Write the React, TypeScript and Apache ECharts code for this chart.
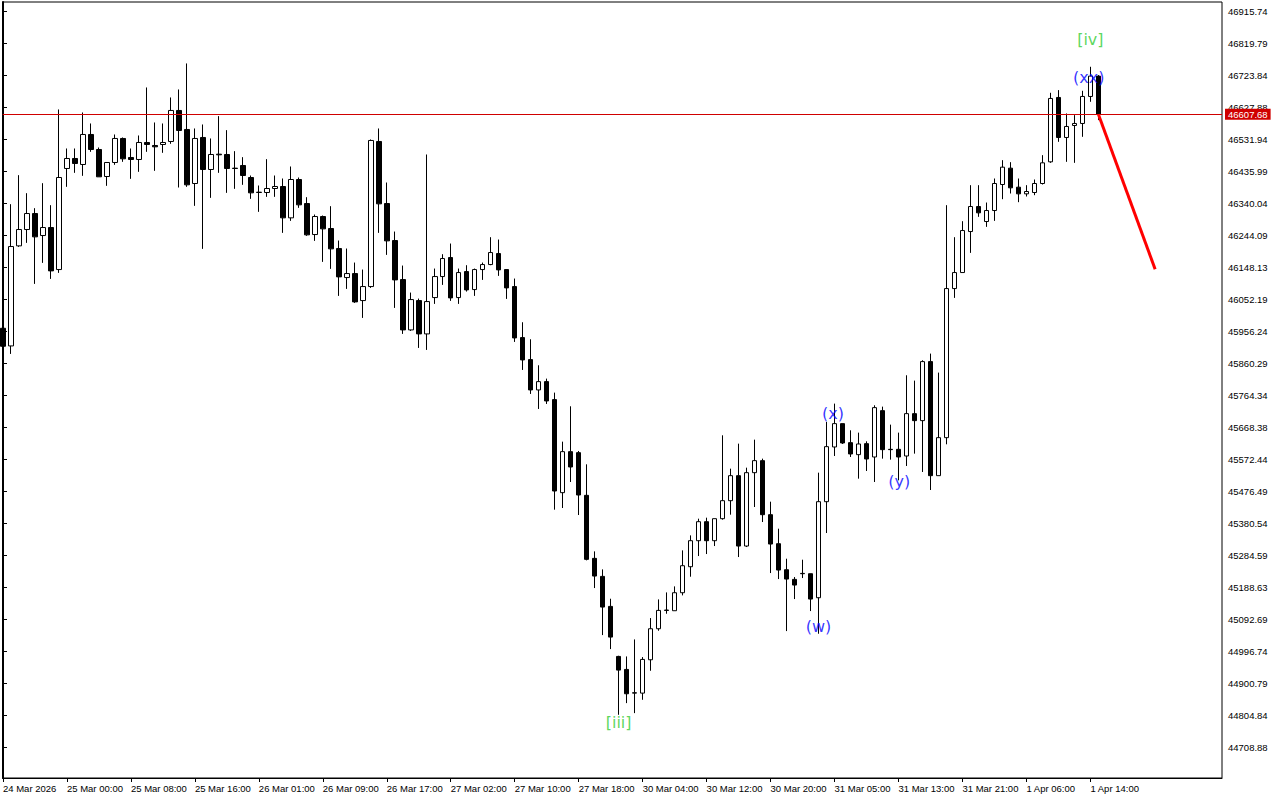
import React, { useEffect, useRef } from "react";
import * as echarts from "echarts";

// Hourly candles, index 0 = 24 Mar 2026 (first visible bar)
const opens = [
  45966, 45913, 46213, 46262, 46310, 46244, 46268, 46142, 46445, 46475,
  46457, 46547, 46502, 46421, 46463, 46535, 46478, 46472, 46523, 46514,
  46517, 46526, 46619, 46562, 46400, 46538, 46442, 46488, 46487, 46446,
  46454, 46418, 46374, 46373, 46385, 46391, 46297, 46412, 46340, 46247,
  46301, 46265, 46205, 46118, 46130, 46049, 46091, 46526, 46340, 46229,
  46112, 45961, 46049, 45949, 46058, 46121, 46178, 46058, 46136, 46082,
  46142, 46157, 46190, 46142, 46091, 45938, 45872, 45781, 45806, 45752,
  45473, 45596, 45593, 45465, 45276, 45222, 45132, 44982, 44943, 44873,
  44872, 44972, 45065, 45121, 45119, 45173, 45251, 45329, 45386, 45329,
  45395, 45449, 45524, 45313, 45533, 45569, 45407, 45320, 45242, 45213,
  45231, 45230, 45158, 45446, 45610, 45680, 45623, 45587, 45620, 45580,
  45719, 45603, 45603, 45583, 45710, 45689, 45866, 45524, 45638, 46085,
  46133, 46256, 46331, 46286, 46319, 46397, 46446, 46389, 46369, 46373,
  46400, 46465, 46658, 46538, 46574, 46580, 46661, 46722,
];
const closes = [
  45912, 46211, 46262, 46310, 46240, 46268, 46138, 46418, 46475, 46460,
  46547, 46502, 46420, 46463, 46535, 46474, 46472, 46523, 46517, 46510,
  46523, 46619, 46559, 46396, 46535, 46442, 46487, 46486, 46445, 46445,
  46424, 46372, 46373, 46385, 46391, 46297, 46412, 46336, 46246, 46301,
  46264, 46204, 46120, 46130, 46045, 46091, 46529, 46339, 46228, 46111,
  45961, 46052, 45949, 46046, 46121, 46175, 46057, 46133, 46081, 46142,
  46157, 46193, 46141, 46087, 45937, 45871, 45781, 45806, 45748, 45478,
  45596, 45550, 45466, 45273, 45223, 45130, 45040, 44941, 44870, 44872,
  44973, 45065, 45120, 45120, 45173, 45254, 45329, 45386, 45329, 45395,
  45449, 45524, 45313, 45533, 45569, 45407, 45319, 45241, 45214, 45196,
  45230, 45154, 45446, 45611, 45680, 45622, 45589, 45619, 45574, 45728,
  45602, 45602, 45580, 45710, 45689, 45866, 45524, 45638, 46085, 46133,
  46259, 46331, 46312, 46319, 46400, 46449, 46387, 46369, 46376, 46400,
  46462, 46655, 46538, 46571, 46580, 46661, 46722, 46607.68,
];
const lows = [
  45888, 45889, 46210, 46222, 46099, 46162, 46114, 46132, 46390, 46432,
  46423, 46495, 46420, 46393, 46456, 46465, 46414, 46435, 46495, 46438,
  46492, 46519, 46388, 46390, 46333, 46204, 46357, 46432, 46372, 46384,
  46396, 46354, 46315, 46360, 46360, 46252, 46288, 46327, 46243, 46228,
  46165, 46144, 46063, 46084, 46042, 45997, 46087, 46252, 46186, 46027,
  45949, 45958, 45907, 45901, 46039, 46096, 46048, 46039, 46076, 46063,
  46111, 46155, 46123, 46054, 45925, 45841, 45769, 45724, 45739, 45422,
  45427, 45505, 45406, 45270, 45187, 45046, 45004, 44807, 44842, 44812,
  44852, 44939, 45059, 45110, 45119, 45165, 45221, 45283, 45289, 45313,
  45392, 45407, 45280, 45310, 45430, 45385, 45232, 45214, 45058, 45154,
  45217, 45118, 45050, 45352, 45583, 45619, 45580, 45515, 45538, 45505,
  45575, 45572, 45510, 45553, 45590, 45535, 45481, 45524, 45618, 46057,
  46133, 46192, 46300, 46270, 46288, 46353, 46370, 46344, 46361, 46365,
  46397, 46462, 46525, 46465, 46462, 46540, 46645, 46590,
];
const highs = [
  45975, 46338, 46425, 46371, 46326, 46401, 46335, 46622, 46505, 46505,
  46613, 46580, 46508, 46463, 46547, 46538, 46505, 46544, 46688, 46583,
  46580, 46658, 46682, 46760, 46565, 46577, 46535, 46602, 46560, 46497,
  46479, 46424, 46394, 46473, 46424, 46415, 46451, 46418, 46359, 46307,
  46304, 46332, 46229, 46205, 46163, 46142, 46532, 46565, 46403, 46256,
  46154, 46073, 46055, 46487, 46145, 46188, 46220, 46145, 46155, 46145,
  46163, 46239, 46232, 46142, 46115, 45984, 45933, 45855, 45815, 45773,
  45626, 45732, 45598, 45558, 45297, 45243, 45155, 44984, 44982, 45033,
  44980, 45097, 45153, 45174, 45192, 45300, 45345, 45395, 45398, 45395,
  45645, 45545, 45620, 45548, 45632, 45575, 45446, 45365, 45275, 45220,
  45272, 45230, 45533, 45685, 45740, 45680, 45660, 45653, 45627, 45735,
  45731, 45677, 45653, 45825, 45809, 45870, 45890, 45833, 46335, 46239,
  46287, 46395, 46395, 46343, 46415, 46470, 46464, 46415, 46395, 46412,
  46485, 46672, 46680, 46610, 46605, 46678, 46750, 46725,
];

// Time axis labels and the bar index they sit on
const timeLabels = [
  "24 Mar 2026", "25 Mar 00:00", "25 Mar 08:00", "25 Mar 16:00", "26 Mar 01:00",
  "26 Mar 09:00", "26 Mar 17:00", "27 Mar 02:00", "27 Mar 10:00", "27 Mar 18:00",
  "30 Mar 04:00", "30 Mar 12:00", "30 Mar 20:00", "31 Mar 05:00", "31 Mar 13:00",
  "31 Mar 21:00", "1 Apr 06:00", "1 Apr 14:00",
];
const timeLabelIndex = [0, 8, 16, 24, 32, 40, 48, 56, 64, 72, 80, 88, 96, 104, 112, 120, 128, 136];

// Price axis tick labels
const priceTicks = [
  46915.74, 46819.79, 46723.84, 46627.88, 46531.94, 46435.99, 46340.04, 46244.09,
  46148.13, 46052.19, 45956.24, 45860.29, 45764.34, 45668.38, 45572.44, 45476.49,
  45380.54, 45284.59, 45188.63, 45092.69, 44996.74, 44900.79, 44804.84, 44708.88,
];

const currentPrice = 46607.68;

// Forecast arrow (bar index, price)
const forecastX = [137, 144.1];
const forecastY = [46607.68, 46143];

// Elliott wave labels
const waveLabels = ["[iii]", "(w)", "(x)", "(y)", "(xx)", "[iv]"];
const waveX = [77, 102, 103.8, 112.1, 135.8, 136];
const waveY = [44784, 45072, 45711, 45507, 46719, 46833];
const waveDegree = ["minor", "minute", "minute", "minute", "minute", "minor"];

const AXIS_FONT = "'Liberation Sans', sans-serif";
const AXIS_SIZE = 9.5;

export default function App() {
  const ref = useRef<HTMLDivElement>(null);

  useEffect(() => {
    if (!ref.current) return;
    const chart = echarts.init(ref.current, undefined, { renderer: "svg" });

    const candleData = opens.map((o, i) => [i, o, closes[i], lows[i], highs[i]]);
    const forecastData = forecastX.map((x, i) => [x, forecastY[i]]);
    const degreeColor: Record<string, string> = { minor: "#32cd32", minute: "#0000ff" };
    const waveData = waveLabels.map((t, i) => ({
      value: [waveX[i], waveY[i]],
      label: { formatter: t, color: degreeColor[waveDegree[i]] },
    }));

    chart.setOption({
      animation: false,
      backgroundColor: "#ffffff",
      grid: {
        left: 2,
        right: 58,
        top: 2,
        bottom: 22,
        show: true,
        borderColor: "#000",
        borderWidth: 1,
        backgroundColor: "#fff",
      },
      xAxis: {
        type: "value",
        min: -0.0375,
        max: 152.4625,
        axisLine: { show: true, onZero: false, lineStyle: { color: "#000", width: 1 } },
        axisTick: {
          show: true,
          customValues: timeLabelIndex,
          length: 4,
          lineStyle: { color: "#000", width: 1 },
        },
        axisLabel: {
          show: true,
          customValues: timeLabelIndex,
          formatter: (v: number) => timeLabels[timeLabelIndex.indexOf(Math.round(v))] ?? "",
          align: "left",
          margin: 5,
          color: "#000",
          fontFamily: AXIS_FONT,
          fontSize: AXIS_SIZE,
        },
        splitLine: { show: false },
      },
      yAxis: {
        type: "value",
        position: "right",
        min: 44617.47,
        max: 46944.23,
        axisLine: { show: true, lineStyle: { color: "#000", width: 2 } },
        axisTick: {
          show: true,
          customValues: priceTicks,
          length: 4,
          lineStyle: { color: "#000", width: 1 },
        },
        axisLabel: {
          show: true,
          customValues: priceTicks,
          formatter: (v: number) => v.toFixed(2),
          margin: 6,
          color: "#000",
          fontFamily: AXIS_FONT,
          fontSize: AXIS_SIZE,
        },
        splitLine: { show: false },
      },
      series: [
        {
          type: "candlestick",
          data: candleData,
          encode: { x: 0, y: [1, 2, 3, 4] },
          barWidth: 5,
          itemStyle: {
            color: "#ffffff",
            color0: "#000000",
            borderColor: "#000000",
            borderColor0: "#000000",
            borderColorDoji: "#000000",
            borderWidth: 1,
          },
          emphasis: { disabled: true },
          markLine: {
            silent: true,
            symbol: ["none", "none"],
            animation: false,
            data: [{ yAxis: currentPrice }],
            lineStyle: { color: "#d00000", width: 1, type: "solid" },
            label: {
              show: true,
              position: "end",
              distance: 3,
              formatter: currentPrice.toFixed(2),
              backgroundColor: "#d00000",
              color: "#fff",
              padding: [1, 3, 0, 3],
              fontFamily: AXIS_FONT,
              fontSize: AXIS_SIZE,
            },
            emphasis: { disabled: true },
          },
          z: 3,
        },
        {
          type: "line",
          data: forecastData,
          symbol: "none",
          lineStyle: { color: "#ff0000", width: 3 },
          z: 5,
          silent: true,
        },
        {
          type: "scatter",
          data: waveData,
          symbolSize: 1,
          itemStyle: { color: "rgba(0,0,0,0)" },
          label: {
            show: true,
            position: "inside",
            fontFamily: "'DejaVu Sans', sans-serif",
            fontSize: 16,
          },
          z: 10,
          silent: true,
        },
      ],
    });

    return () => chart.dispose();
  }, []);

  return (
    <div
      ref={ref}
      style={{ position: "absolute", left: 0, top: 0, width: 1280, height: 800 }}
    />
  );
}
